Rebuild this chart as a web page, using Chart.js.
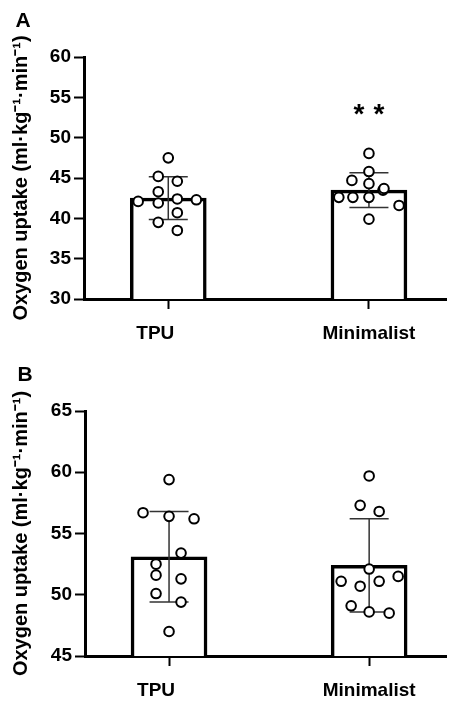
<!DOCTYPE html>
<html>
<head>
<meta charset="utf-8">
<script src="https://cdn.jsdelivr.net/npm/chart.js@4.4.1/dist/chart.umd.min.js"></script>
<style>
  body { margin: 0; background: #fff; }
  canvas { display: block; }
</style>
</head>
<body>
<canvas id="chartA" width="453" height="345"></canvas>
<canvas id="chartB" width="453" height="357"></canvas>
<script>
// categories and values
const categories = ['TPU', 'Minimalist'];
const yTitle = 'Oxygen uptake (ml·kg⁻¹·min⁻¹)';

// panel A
const meanA = [42.5, 43.5];
const sdA = [2.65, 2.15];
const tpuA = [47.5, 45.2, 44.6, 43.3, 42.1, 41.9, 42.4, 42.3, 40.7, 39.5, 38.5];
const tpuAJitter = [0, -0.05, 0.045, -0.05, -0.15, -0.05, 0.045, 0.14, 0.045, -0.05, 0.045];
const minA = [48.05, 45.8, 44.7, 44.3, 43.5, 43.7, 42.6, 42.6, 42.6, 41.6, 39.9];
const minAJitter = [0, 0, -0.085, 0, 0.07, 0.075, -0.15, -0.08, 0, 0.15, 0];
const ticksA = [30, 35, 40, 45, 50, 55, 60];
const sigA = [null, 53.7];

// panel B
const meanB = [53.1, 52.4];
const sdB = [3.7, 3.8];
const tpuB = [59.4, 56.7, 56.4, 56.2, 53.4, 52.5, 51.6, 51.3, 50.1, 49.4, 47.0];
const tpuBJitter = [0, -0.13, 0, 0.125, 0.06, -0.065, -0.065, 0.06, -0.065, 0.06, 0];
const minB = [59.7, 57.3, 56.8, 52.1, 51.1, 51.1, 51.5, 50.7, 49.1, 48.6, 48.5];
const minBJitter = [0, -0.045, 0.05, 0, -0.14, 0.05, 0.145, -0.045, -0.09, 0, 0.1];
const ticksB = [45, 50, 55, 60, 65];
const sigB = [null, null];

const FONT = "'Liberation Sans', Arial, sans-serif";
const labelShift = [-13, 0]; // the TPU label sits a bit left of its tick

const errorBars = {
  id: 'errorBars',
  afterDatasetDraw(chart, args, opts) {
    if (args.index !== 0) return;
    const ctx = chart.ctx;
    const xs = chart.scales.x, ys = chart.scales.y;
    ctx.save();
    ctx.strokeStyle = '#333';
    ctx.lineWidth = 1.5;
    opts.means.forEach((m, i) => {
      const x = xs.getPixelForValue(i);
      const top = ys.getPixelForValue(m + opts.sds[i]);
      const bot = ys.getPixelForValue(m - opts.sds[i]);
      ctx.beginPath();
      ctx.moveTo(x, top); ctx.lineTo(x, bot);
      ctx.moveTo(x - 19.5, top); ctx.lineTo(x + 19.5, top);
      ctx.moveTo(x - 19.5, bot); ctx.lineTo(x + 19.5, bot);
      ctx.stroke();
    });
    ctx.restore();
  }
};

const extras = {
  id: 'extras',
  afterDraw(chart, args, opts) {
    const ctx = chart.ctx;
    const xs = chart.scales.x;
    ctx.save();
    ctx.fillStyle = '#000';
    ctx.textAlign = 'center';
    ctx.textBaseline = 'middle';
    ctx.font = 'bold 21px ' + FONT;
    ctx.fillText(opts.letter, opts.letterX, opts.letterY);
    // category labels
    ctx.font = 'bold 19px ' + FONT;
    categories.forEach((c, i) => {
      ctx.fillText(c, xs.getPixelForValue(i) + labelShift[i], xs.top + 35);
    });
    ctx.font = 'bold 28px ' + FONT;
    ctx.textBaseline = 'alphabetic';
    opts.sig.forEach((v, i) => {
      if (v == null) return;
      const x = xs.getPixelForValue(i);
      const y = chart.scales.y.getPixelForValue(v) + 15;
      ctx.fillText('*', x - 10, y);
      ctx.fillText('*', x + 10, y);
    });
    ctx.restore();
  }
};

function makeChart(id, o) {
  const dots = o.tpu.map((v, i) => ({ x: 0 + o.tpuJitter[i], y: v }))
    .concat(o.min.map((v, i) => ({ x: 1 + o.minJitter[i], y: v })));
  return new Chart(document.getElementById(id), {
    type: 'bar',
    data: {
      datasets: [
        {
          type: 'bar',
          data: o.means.map((m, i) => ({ x: i, y: m })),
          backgroundColor: '#fff',
          borderColor: '#000',
          borderWidth: 3.5,
          barThickness: 76,
          order: 2
        },
        {
          type: 'scatter',
          data: dots,
          pointRadius: 4.8,
          pointBorderWidth: 2,
          pointBackgroundColor: '#fff',
          pointBorderColor: '#000',
          order: 1
        }
      ]
    },
    options: {
      responsive: false,
      animation: false,
      events: [],
      layout: { padding: { top: o.top, left: 0, right: 0, bottom: 0 } },
      plugins: {
        legend: { display: false },
        tooltip: { enabled: false },
        errorBars: { means: o.means, sds: o.sds },
        extras: { letter: o.letter, letterX: o.letterX, letterY: o.letterY, sig: o.sig }
      },
      scales: {
        x: {
          type: 'linear',
          offset: false,
          min: -0.42,
          max: 1.385,
          afterBuildTicks: (s) => { s.ticks = categories.map((c, i) => ({ value: i })); },
          afterFit: (s) => { s.height = o.xHeight; },
          ticks: { display: false },
          grid: { offset: false, drawOnChartArea: false, drawTicks: true, tickLength: 10, tickWidth: 2, tickColor: '#000' },
          border: { display: true, color: '#000', width: 3 }
        },
        y: {
          min: o.ticks[0],
          max: o.ticks[o.ticks.length - 1],
          afterBuildTicks: (s) => { s.ticks = o.ticks.map(v => ({ value: v })); },
          afterFit: (s) => { s.width = o.yWidth; },
          ticks: {
            color: '#000',
            font: { family: FONT, size: 19, weight: 'bold' },
            padding: 3
          },
          grid: { drawOnChartArea: false, drawTicks: true, tickLength: 10, tickWidth: 2, tickColor: '#000' },
          border: { display: true, color: '#000', width: 3 },
          title: {
            display: true,
            text: yTitle,
            color: '#000',
            font: { family: FONT, size: 20, weight: 'bold' },
            padding: { top: 9, bottom: 0 }
          }
        }
      }
    },
    plugins: [errorBars, extras]
  });
}

makeChart('chartA', {
  means: meanA, sds: sdA, tpu: tpuA, tpuJitter: tpuAJitter, min: minA, minJitter: minAJitter,
  ticks: ticksA, sig: sigA, letter: 'A', letterX: 23, letterY: 21,
  top: 57, xHeight: 46, yWidth: 84
});
makeChart('chartB', {
  means: meanB, sds: sdB, tpu: tpuB, tpuJitter: tpuBJitter, min: minB, minJitter: minBJitter,
  ticks: ticksB, sig: sigB, letter: 'B', letterX: 25, letterY: 30,
  top: 66, xHeight: 46, yWidth: 85
});
</script>
</body>
</html>
